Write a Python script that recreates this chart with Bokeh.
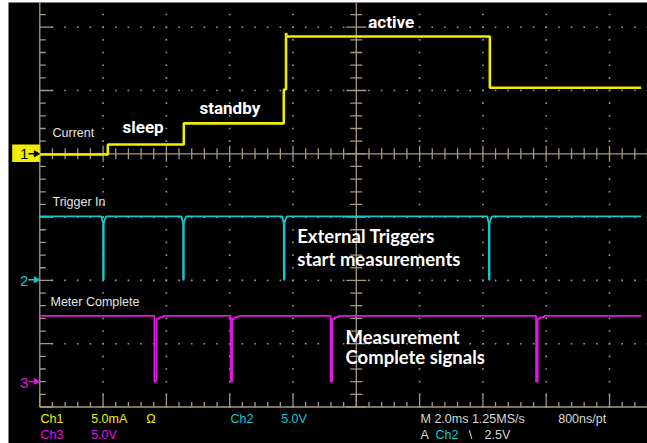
import numpy as np
from bokeh.plotting import figure
from bokeh.models import Range1d
from bokeh.core.properties import value
from bokeh.embed import file_html
from bokeh.resources import INLINE

# ---------------- data ----------------
# Ch1 : supply current (mA), 5 mA/div
current_t_ms = [0.00, 2.15, 2.15, 4.55, 4.55, 7.71, 7.71, 7.78, 7.78, 7.80, 14.22, 14.22, 19.00]
current_mA   = [0.00, 0.00, 0.79, 0.79, 2.45, 2.45, 5.13, 5.13, 9.60, 9.32, 9.32, 5.27, 5.27]

# Ch2 : Trigger In (V), 5 V/div
trigger_t_ms = [0.00,
                1.95, 1.98, 2.00, 2.00, 2.02, 2.02, 2.06, 2.10,
                4.48, 4.51, 4.53, 4.53, 4.55, 4.55, 4.59, 4.63,
                7.66, 7.69, 7.71, 7.71, 7.73, 7.73, 7.77, 7.81,
                14.14, 14.17, 14.19, 14.19, 14.21, 14.21, 14.25, 14.29,
                19.00]
trigger_V = [5.0,
             5.0, 4.6, 4.5, 0.0, 0.0, 4.5, 4.8, 5.0,
             5.0, 4.6, 4.5, 0.0, 0.0, 4.5, 4.8, 5.0,
             5.0, 4.6, 4.5, 0.0, 0.0, 4.5, 4.8, 5.0,
             5.0, 4.6, 4.5, 0.0, 0.0, 4.5, 4.8, 5.0,
             5.0]

# Ch3 : Meter Complete (V), 5 V/div
meter_t_ms = [0.00,
              3.62, 3.62, 3.69, 3.69, 3.77, 3.78, 3.89, 3.90,
              6.03, 6.03, 6.08, 6.08, 6.16, 6.17, 6.28, 6.29,
              9.19, 9.19, 9.24, 9.24, 9.32, 9.33, 9.44, 9.45,
              15.68, 15.68, 15.73, 15.73, 15.81, 15.82, 15.93, 15.94,
              19.00]
meter_V = [5.2,
           5.2, 0.0, 0.0, 4.96, 4.96, 5.09, 5.09, 5.2,
           5.2, 0.0, 0.0, 4.96, 4.96, 5.09, 5.09, 5.2,
           5.2, 0.0, 0.0, 4.96, 4.96, 5.09, 5.09, 5.2,
           5.2, 0.0, 0.0, 4.96, 4.96, 5.09, 5.09, 5.2,
           5.2]

state_labels = ["sleep", "standby", "active"]
channel_names = ["Current", "Trigger In", "Meter Complete"]
callout_trig = ["External Triggers", "start measurements"]
callout_meas = ["Measurement", "Complete signals"]

# scope settings
CH1_SCALE, CH1_OFF = 5.0, -0.01   # mA/div, ground position (div)
CH2_SCALE, CH2_OFF = 5.0, -1.99
CH3_SCALE, CH3_OFF = 5.0, -3.60
MS_PER_DIV = 2.0

# ---------------- layout helpers (picture pixels -> data) ----------------
PX_PER_DIV = 63.3
def X(px):
    return (px - 39.3) / PX_PER_DIV * MS_PER_DIV
def Y(py):
    return (153.3 - py) / PX_PER_DIV
DX = MS_PER_DIV / PX_PER_DIV   # ms per pixel
DY = 1.0 / PX_PER_DIV          # div per pixel

W, H = 647, 443
LEFT, TOP = 8, 2
p = figure(width=W, height=H, output_backend="svg", toolbar_location=None,
           x_range=Range1d(X(LEFT), X(W)), y_range=Range1d(Y(H), Y(TOP)),
           x_axis_location=None, y_axis_location=None,
           min_border=0, min_border_left=LEFT, min_border_right=0,
           min_border_top=TOP, min_border_bottom=0)
p.background_fill_color = "black"
p.border_fill_color = "white"
p.outline_line_color = None
p.grid.visible = False

TAN = "#a39a80"
YEL = "#f2ee00"
CYA = "#14c8d2"
MAG = "#e414e4"
LIGHT = "#d8d8d8"

t_right = X(W) + 0.1
y_top = Y(TOP) + 0.05
BOT = -4.0

# graticule dots
ys = np.round(np.arange(BOT, 2.3, 0.2), 6)
ts = np.round(np.arange(0.0, 19.6, 0.4), 6)
vx, vy = [], []
for t in [2, 4, 6, 8, 12, 14, 16, 18]:
    vx += [t] * len(ys); vy += list(ys)
for yy in [2, 1, -1, -2, -3]:
    vx += list(ts); vy += [yy] * len(ts)
p.rect(x=vx, y=vy, width=1.6, height=1.6, width_units="screen", height_units="screen",
       fill_color=TAN, line_color=None)

# solid graticule lines
p.segment(x0=[0, 0, 0, 10], y0=[BOT, BOT, 0, BOT], x1=[0, t_right, t_right, 10],
          y1=[y_top, BOT, 0, y_top], line_color=TAN, line_width=1.3)

ymaj = np.isclose(ys, np.round(ys))
tmaj = np.isclose(ts / 2.0, np.round(ts / 2.0))
# left edge ticks
Lx = np.where(ymaj, 13, 6) * DX
p.segment(x0=np.zeros(len(ys)), y0=ys, x1=Lx, y1=ys, line_color=TAN, line_width=1.3)
# bottom edge ticks
Ly = np.where(tmaj, 13, 5) * DY
p.segment(x0=ts, y0=np.full(len(ts), BOT), x1=ts, y1=BOT + Ly, line_color=TAN, line_width=1.3)
# centre horizontal ticks
Lh = np.where(tmaj, 8, 5.5) * DY
p.segment(x0=ts, y0=-Lh, x1=ts, y1=Lh, line_color=TAN, line_width=1.3)
# centre vertical ticks
Lv = np.where(ymaj, 10, 6) * DX
p.segment(x0=10 - Lv, y0=ys, x1=10 + Lv, y1=ys, line_color=TAN, line_width=1.3)

# traces
p.line(x=meter_t_ms, y=[CH3_OFF + v / CH3_SCALE for v in meter_V], line_color=MAG, line_width=1.8)
p.line(x=trigger_t_ms, y=[CH2_OFF + v / CH2_SCALE for v in trigger_V], line_color=CYA, line_width=1.8)
p.line(x=current_t_ms, y=[CH1_OFF + v / CH1_SCALE for v in current_mA], line_color=YEL, line_width=2.6)

# channel ground markers
p.quad(left=[X(11.7)], right=[X(39.3)], bottom=[Y(161.5)], top=[Y(144)], fill_color=YEL, line_color=None)
p.text(x=[X(19.5), X(19.5), X(19.5)], y=[Y(153.5), Y(280.5), Y(382.5)], text=["1", "2", "3"],
       text_color=["black", CYA, MAG], text_font=value("Liberation Sans"), text_font_size="15px",
       text_baseline="middle", text_align="left")
arr_y = [Y(153.3), Y(279.3), Y(380.9)]
arr_c = ["black", CYA, MAG]
p.segment(x0=[X(28)] * 3, y0=arr_y, x1=[X(34)] * 3, y1=arr_y, line_color=arr_c, line_width=1.5)
p.scatter(x=[X(35.5)] * 3, y=arr_y, marker="triangle", size=6, angle=-np.pi / 2,
          fill_color=arr_c, line_color=arr_c)

# channel names
p.text(x=[X(52), X(52), X(50)], y=[Y(132.5), Y(201.3), Y(301.3)], text=channel_names,
       text_color="#e4e4e4", text_font=value("Liberation Sans"), text_font_size="12.5px",
       text_baseline="middle", text_align="left")

# state labels
p.text(x=[X(122), X(199), X(367.7)], y=[Y(126), Y(107), Y(21)], text=state_labels,
       text_color="white", text_font=value("Roboto"), text_font_size="17px",
       text_font_style="bold", text_baseline="middle", text_align="left")

# call-outs
p.text(x=[X(296.7)] * 2, y=[Y(235), Y(258.5)], text=callout_trig,
       text_color="white", text_font=value("Lato"), text_font_size="18.5px",
       text_font_style="bold", text_baseline="middle", text_align="left")
p.text(x=[X(345)] * 2, y=[Y(336.3), Y(356.7)], text=callout_meas,
       text_color="white", text_font=value("Lato"), text_font_size="18.5px",
       text_font_style="bold", text_baseline="middle", text_align="left")

# status line
r1, r2 = Y(418.3), Y(434.3)
foot_x = [X(40), X(90.7), X(145.7), X(230), X(280.7), X(420), X(557.7),
          X(40), X(90.7), X(420), X(435), X(468.3), X(484)]
foot_y = [r1] * 7 + [r2] * 6
foot_t = ["Ch1", "5.0mA", "\u03a9", "Ch2", "5.0V", "M 2.0ms 1.25MS/s", "800ns/pt",
          "Ch3", "5.0V", "A", "Ch2", "\\", "2.5V"]
foot_c = [YEL, YEL, YEL, CYA, CYA, LIGHT, LIGHT,
          MAG, MAG, LIGHT, CYA, LIGHT, LIGHT]
p.text(x=foot_x, y=foot_y, text=foot_t, text_color=foot_c, text_font=value("Liberation Sans"),
       text_font_size="12.5px", text_baseline="middle", text_align="left")

open("out.html", "w").write(file_html(p, INLINE))
